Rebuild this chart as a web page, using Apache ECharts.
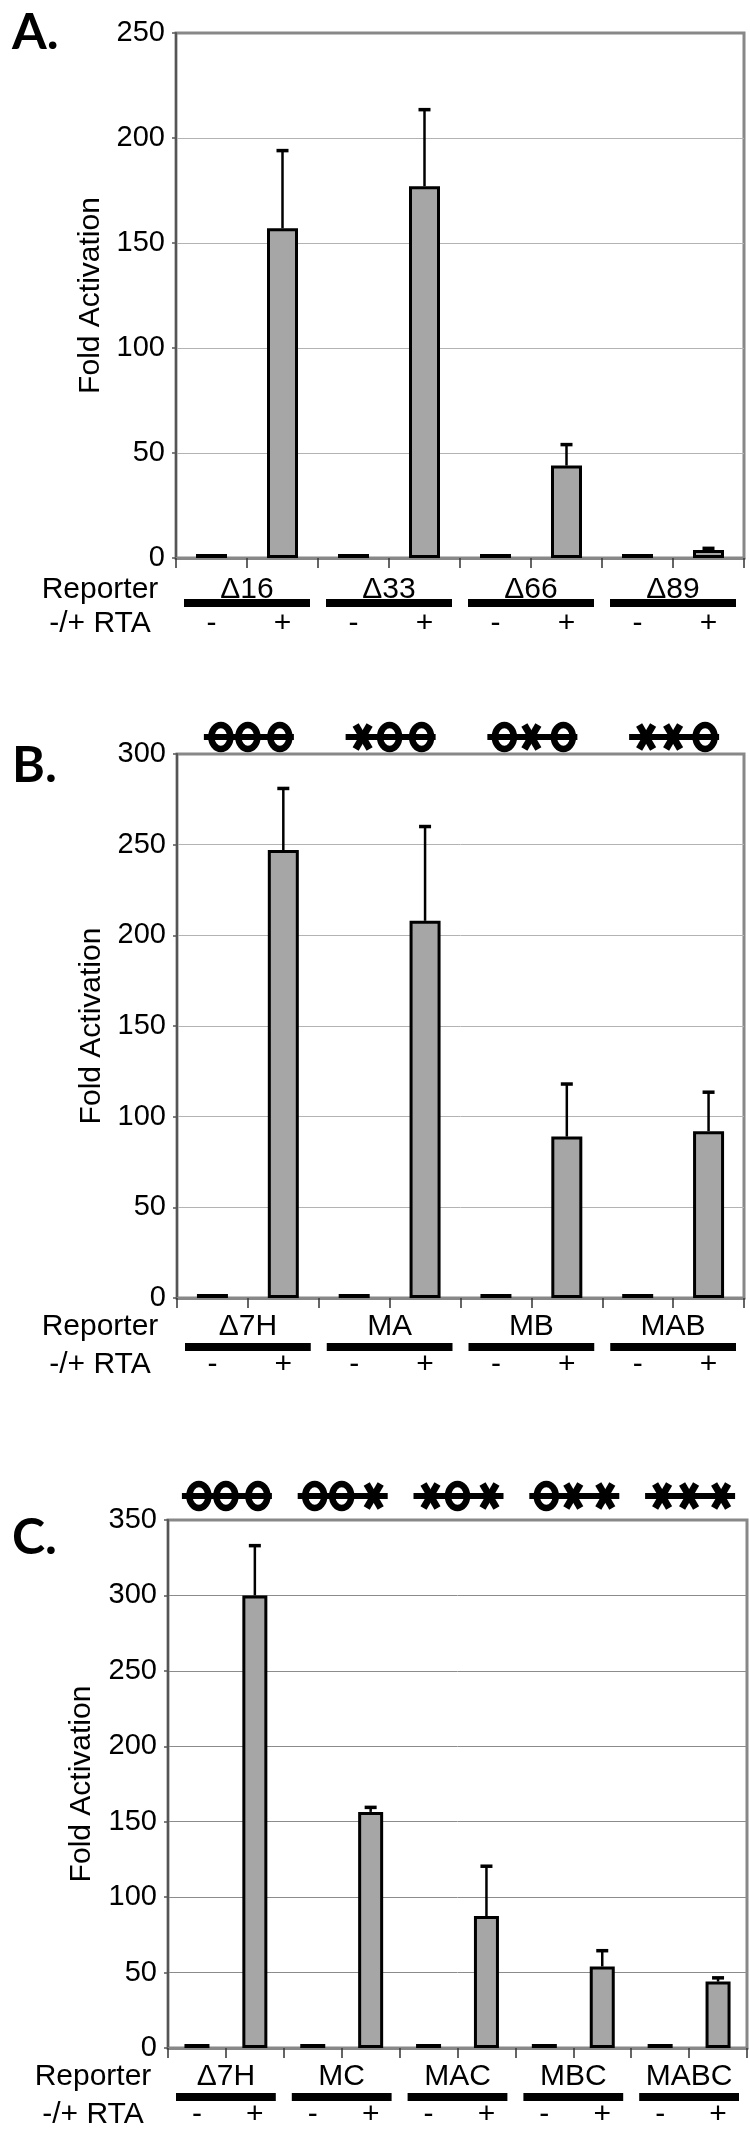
<!DOCTYPE html>
<html>
<head>
<meta charset="utf-8">
<script src="https://cdn.jsdelivr.net/npm/echarts@6/dist/echarts.min.js"></script>
<style>
  html, body { margin: 0; padding: 0; background: #fff; }
  #chart { width: 750px; height: 2141px; }
</style>
</head>
<body>
<div id="chart"></div>
<script>
// panel A
const groupsA = ["Δ16", "Δ33", "Δ66", "Δ89"];
const minusA = [1, 1, 1, 1];
const plusA = [157, 177, 44, 3.8];
const errTopA = [194, 213.5, 54, 4.6];

// panel B
const groupsB = ["Δ7H", "MA", "MB", "MAB"];
const minusB = [1, 1, 1, 1];
const plusB = [247, 208, 89, 92];
const errTopB = [281, 260, 118, 113.5];
const sitesB = ["ooo", "xoo", "oxo", "xxo"]; // o = intact site, x = mutated

// panel C
const groupsC = ["Δ7H", "MC", "MAC", "MBC", "MABC"];
const minusC = [1, 1, 1, 1, 1];
const plusC = [300, 156.5, 87.5, 54, 44];
const errTopC = [333, 159.5, 120.5, 64.5, 46.5];
const sitesC = ["ooo", "oox", "xox", "oxx", "xxx"];

const yMaxA = 250, yMaxB = 300, yMaxC = 350;
const rtaLabels = ["-", "+"];

const FONT = "'Liberation Sans', Arial, Helvetica, sans-serif";
const TXT = 30;
const BOLD_FONT = "Lato, 'Open Sans', sans-serif";

const panels = [
  { letter: "A.", groups: groupsA, minus: minusA, plus: plusA, errTop: errTopA, sites: null, yMax: yMaxA,
    grid: { left: 176, top: 33, width: 568, height: 525 }, nameGap: 68, splitColor: "#b3b3b3",
    barWidth: 31, rows: { name: 32, bar: 45, pm: 66 }, headX: 100, letterY: 33, symGap: 0 },
  { letter: "B.", groups: groupsB, minus: minusB, plus: plusB, errTop: errTopB, sites: sitesB, yMax: yMaxB,
    grid: { left: 177, top: 754, width: 567, height: 544 }, nameGap: 70, splitColor: "#b3b3b3",
    barWidth: 31, rows: { name: 29, bar: 49, pm: 67 }, headX: 100, letterY: 766, symGap: 17 },
  { letter: "C.", groups: groupsC, minus: minusC, plus: plusC, errTop: errTopC, sites: sitesC, yMax: yMaxC,
    grid: { left: 168, top: 1520, width: 579, height: 528 }, nameGap: 71, splitColor: "#8c8c8c",
    barWidth: 25, rows: { name: 29, bar: 49, pm: 67 }, headX: 93, letterY: 1538, symGap: 24 }
];

const grids = [], xAxes = [], yAxes = [], series = [], graphics = [];

panels.forEach((p, pi) => {
  grids.push({ ...p.grid, show: true, borderColor: "#888", borderWidth: 3, backgroundColor: "transparent" });

  // "-" bar (flat, black) and "+" bar per reporter
  const cats = [], values = [];
  p.groups.forEach((g, i) => {
    rtaLabels.forEach((s) => cats.push(g + "|" + s));
    values.push({ value: p.minus[i], itemStyle: { color: "#000", borderWidth: 0 } }, p.plus[i]);
  });

  xAxes.push({
    gridIndex: pi, type: "category", data: cats,
    axisLine: { show: true, onZero: false, lineStyle: { color: "#888", width: 3 } },
    axisTick: { show: true, interval: 0, length: 10, lineStyle: { color: "#333", width: 1.5 } },
    axisLabel: { interval: 0, margin: p.rows.pm, verticalAlign: "middle", fontFamily: FONT, fontSize: TXT,
      color: "#000", formatter: (v) => v.split("|")[1] },
    splitLine: { show: false }
  });
  xAxes.push({
    gridIndex: pi, type: "category", data: p.groups, position: "bottom",
    axisLine: { show: false }, axisTick: { show: false },
    axisLabel: { interval: 0, margin: p.rows.name, verticalAlign: "middle", fontFamily: FONT, fontSize: TXT, color: "#000" },
    splitLine: { show: false }
  });
  yAxes.push({
    gridIndex: pi, type: "value", min: 0, max: p.yMax, interval: 50,
    name: "Fold Activation", nameLocation: "middle", nameGap: p.nameGap,
    nameTextStyle: { fontFamily: FONT, fontSize: 30, color: "#000" },
    axisLine: { show: true, lineStyle: { color: "#555", width: 2 } },
    axisTick: { show: true, length: 4, lineStyle: { color: "#555", width: 1.5 } },
    axisLabel: { fontFamily: FONT, fontSize: 29, color: "#000", margin: 11 },
    splitLine: { show: true, showMinLine: false, showMaxLine: false, lineStyle: { color: p.splitColor, width: 1 } }
  });

  const xMain = pi * 2, xGroup = pi * 2 + 1;

  series.push({
    type: "bar", xAxisIndex: xMain, yAxisIndex: pi, data: values, barWidth: p.barWidth, barMinHeight: 4,
    itemStyle: { color: "#a6a6a6", borderColor: "#000", borderWidth: 3 }, silent: true
  });

  // upper error bars on the "+" bars
  series.push({
    type: "custom", xAxisIndex: xMain, yAxisIndex: pi, silent: true, z: 3,
    data: p.plus.map((v, i) => [i * 2 + 1, v, p.errTop[i]]),
    renderItem: (params, api) => {
      const base = api.coord([api.value(0), api.value(1)]);
      const top = api.coord([api.value(0), api.value(2)]);
      return { type: "group", children: [
        { type: "line", shape: { x1: base[0], y1: base[1], x2: top[0], y2: top[1] }, style: { stroke: "#000", lineWidth: 2.5 } },
        { type: "line", shape: { x1: top[0] - 6, y1: top[1], x2: top[0] + 6, y2: top[1] }, style: { stroke: "#000", lineWidth: 3.5 } }
      ] };
    }
  });

  // black reporter bars under the axis + binding-site diagrams above the plot
  series.push({
    type: "custom", xAxisIndex: xGroup, yAxisIndex: pi, silent: true, clip: false,
    data: p.groups.map((g, i) => [i, 0]),
    renderItem: (params, api) => {
      const i = api.value(0);
      const c = api.coord([i, 0]);
      const top = api.coord([i, p.yMax]);
      const bw = api.size([1, 0])[0];
      const children = [
        { type: "rect", shape: { x: c[0] - bw / 2 + 8, y: c[1] + p.rows.bar - 4, width: bw - 16, height: 8 }, style: { fill: "#000" } }
      ];
      if (p.sites) {
        const sy = top[1] - p.symGap;
        const cx = c[0] + 1;
        const offs = [-28, -1, 31];
        children.push({ type: "line", shape: { x1: cx - 45, y1: sy, x2: cx + 45, y2: sy }, style: { stroke: "#000", lineWidth: 6 } });
        p.sites[params.dataIndex].split("").forEach((s, k) => {
          const x = cx + offs[k];
          if (s === "o") {
            children.push({ type: "ellipse", shape: { cx: x, cy: sy, rx: 9.5, ry: 12 }, style: { fill: "none", stroke: "#000", lineWidth: 6.5 } });
          } else {
            children.push({ type: "line", shape: { x1: x - 7, y1: sy - 12, x2: x + 7, y2: sy + 12 }, style: { stroke: "#000", lineWidth: 7 } });
            children.push({ type: "line", shape: { x1: x - 7, y1: sy + 12, x2: x + 7, y2: sy - 12 }, style: { stroke: "#000", lineWidth: 7 } });
          }
        });
      }
      return { type: "group", children };
    }
  });

  const zeroY = p.grid.top + p.grid.height;
  graphics.push({ type: "text", x: 12, y: p.letterY,
    style: { text: p.letter, fontFamily: BOLD_FONT, fontWeight: "bold", fontSize: 50, fill: "#000", align: "left", verticalAlign: "middle" } });
  graphics.push({ type: "text", x: p.headX, y: zeroY + p.rows.name,
    style: { text: "Reporter", fontFamily: FONT, fontSize: TXT, fill: "#000", align: "center", verticalAlign: "middle" } });
  graphics.push({ type: "text", x: p.headX, y: zeroY + p.rows.pm,
    style: { text: "-/+ RTA", fontFamily: FONT, fontSize: TXT, fill: "#000", align: "center", verticalAlign: "middle" } });
});

const chart = echarts.init(document.getElementById("chart"), null, { renderer: "canvas" });
chart.setOption({
  animation: false,
  backgroundColor: "#fff",
  grid: grids,
  xAxis: xAxes,
  yAxis: yAxes,
  series: series,
  graphic: graphics
});
</script>
</body>
</html>
